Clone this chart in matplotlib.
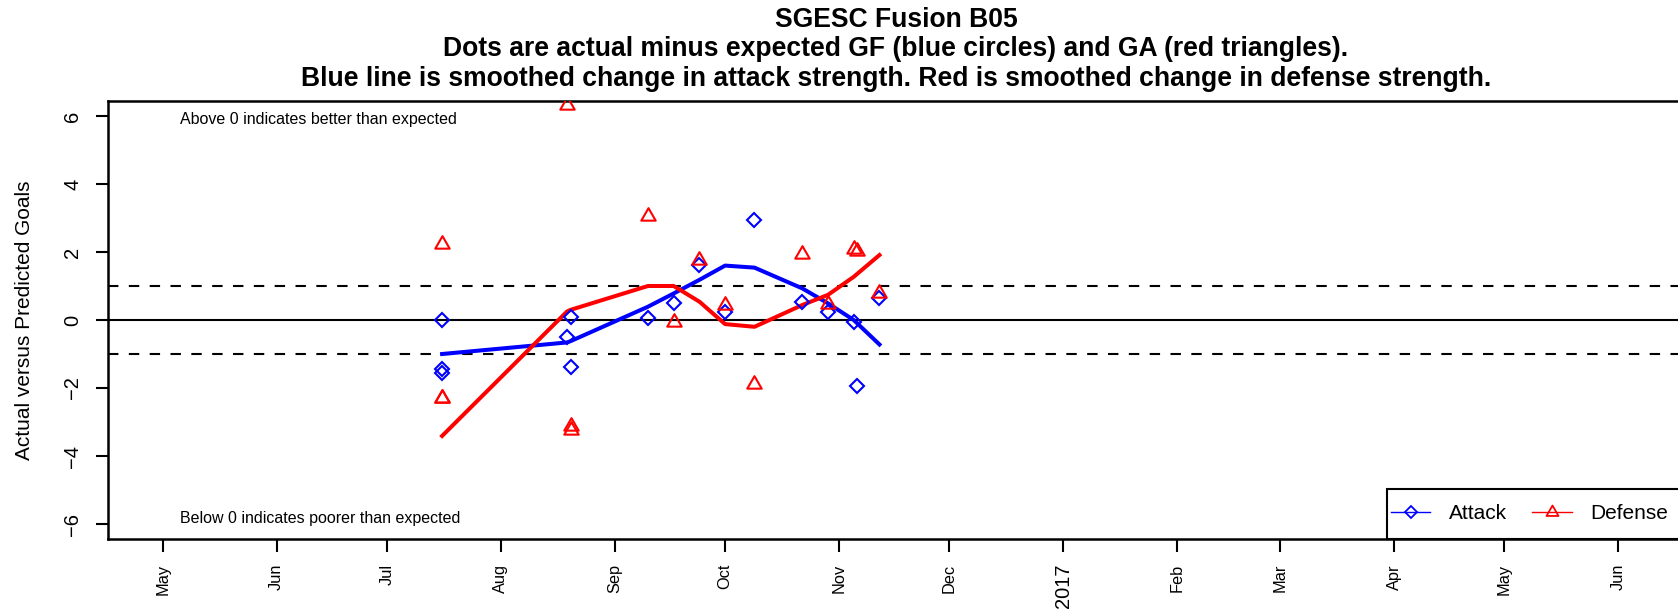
import matplotlib
matplotlib.use("Agg")
import matplotlib.pyplot as plt
import matplotlib.dates as mdates
from matplotlib.lines import Line2D
from matplotlib.patches import Rectangle
from matplotlib.path import Path
import datetime as dt

plt.rcParams['font.family'] = ['Liberation Sans', 'DejaVu Sans']

# game dates and actual minus expected goals
game_dates = ["2016-07-16", "2016-07-16", "2016-07-16", "2016-08-19", "2016-08-20",
              "2016-08-20", "2016-09-10", "2016-09-17", "2016-09-24", "2016-10-01",
              "2016-10-09", "2016-10-22", "2016-10-29", "2016-11-05", "2016-11-06",
              "2016-11-12"]
attack = [0.0, -1.57, -1.44, -0.49, 0.08, -1.37, 0.05, 0.51, 1.62, 0.24,
          2.94, 0.52, 0.23, -0.05, -1.94, 0.64]
defense = [2.24, -2.30, -2.30, 6.32, -3.12, -3.22, 3.06, -0.05, 1.76, 0.45,
           -1.87, 1.94, 0.46, 2.09, 2.04, 0.79]

# smoothed change in strength
smooth_dates = ["2016-07-16", "2016-08-19", "2016-08-20", "2016-09-10", "2016-09-17",
                "2016-09-24", "2016-10-01", "2016-10-09", "2016-10-22", "2016-10-29",
                "2016-11-05", "2016-11-12"]
attack_smooth = [-1.0, -0.66, -0.62, 0.39, 0.78, 1.18, 1.60, 1.54, 0.93, 0.49, 0.0, -0.72]
defense_smooth = [-3.41, 0.25, 0.30, 1.0, 1.0, 0.54, -0.12, -0.20, 0.44, 0.74, 1.27, 1.91]

yticks = [-6, -4, -2, 0, 2, 4, 6]

gd = [dt.datetime.strptime(d, "%Y-%m-%d") for d in game_dates]
sd = [dt.datetime.strptime(d, "%Y-%m-%d") for d in smooth_dates]

W, H = 1678, 616
fig = plt.figure(figsize=(W / 100, H / 100), dpi=100)
ax = fig.add_axes([108 / W, 1 - 539 / H, (1684 - 108) / W, (539 - 101) / H])

# open triangle like R's pch=2
tri = Path([(-1, -0.577), (1, -0.577), (0, 1.155), (-1, -0.577)], closed=True)

ax.axhline(0, color='black', lw=1.5, zorder=1)
ax.axhline(1, color='black', lw=1.5, ls=(0, (5, 5)), zorder=1)
ax.axhline(-1, color='black', lw=1.5, ls=(0, (5, 5)), zorder=1)

ax.plot(gd, attack, ls='none', marker='D', ms=7.3, mfc='none', mec='blue', mew=1.5,
        zorder=3)
ax.plot(gd, defense, ls='none', marker=tri, ms=12, mfc='none', mec='red', mew=1.5,
        zorder=3)
ax.plot(sd, attack_smooth, color='blue', lw=2.9, zorder=2)
ax.plot(sd, defense_smooth, color='red', lw=2.9, zorder=2)

start = dt.datetime(2016, 5, 1)
ax.set_xlim(start - dt.timedelta(days=14.9), start + dt.timedelta(days=413.9))
ax.set_ylim(-6.44, 6.44)

ax.xaxis.set_major_locator(mdates.MonthLocator())


def month_fmt(x, pos=None):
    d = mdates.num2date(x)
    if d.month == 1:
        return str(d.year)
    return d.strftime("%b")


ax.xaxis.set_major_formatter(plt.FuncFormatter(month_fmt))
ax.set_yticks(yticks)
ax.set_yticklabels([str(v).replace('-', '\u2212') for v in yticks])

ax.tick_params(axis='x', length=9, width=1.5, pad=9, labelsize=11.8, labelrotation=90)
ax.tick_params(axis='y', length=8.5, width=1.5, pad=10, labelsize=14.5, labelrotation=90)
for lab in ax.get_yticklabels():
    lab.set_va('center')
fig.canvas.draw()
for lab in ax.get_xticklabels():
    if lab.get_text().isdigit():
        lab.set_fontsize(14.5)

for s in ['left', 'bottom', 'top', 'right']:
    ax.spines[s].set_linewidth(1.8)

fig.text(25 / W, 1 - 320 / H, "Actual versus Predicted Goals", fontsize=15,
         rotation=90, ha='center', va='center')

ax.text(start + dt.timedelta(days=4.7), 5.91, "Above 0 indicates better than expected",
        fontsize=11.5, va='center', ha='left')
ax.text(start + dt.timedelta(days=4.7), -5.85, "Below 0 indicates poorer than expected",
        fontsize=11.5, va='center', ha='left')

# legend box drawn by hand, tight on the left like R's legend()
ax.add_patch(Rectangle(((1387 - 108) / 1576, 0), 0.3, 50 / 438, transform=ax.transAxes,
                       facecolor='white', edgecolor='black', lw=1.5, zorder=5,
                       clip_on=False))
handles = [Line2D([], [], color='blue', lw=1, marker='D', ms=6, mfc='none', mec='blue', mew=1.3),
           Line2D([], [], color='red', lw=1, marker=tri, ms=10, mfc='none', mec='red', mew=1.3)]
leg = ax.legend(handles, ["Attack", "Defense"], loc='lower right', ncol=2, fontsize=15,
                frameon=False, borderaxespad=0, handlelength=1.9,
                handletextpad=0.9, columnspacing=1.2, borderpad=0.75)
leg.set_zorder(6)

cx = 896 / W
titles = ["SGESC Fusion B05",
          "Dots are actual minus expected GF (blue circles) and GA (red triangles).",
          "Blue line is smoothed change in attack strength. Red is smoothed change in defense strength."]
for t, yb in zip(titles, [27, 55.5, 85.5]):
    fig.text(cx, 1 - yb / H, t, fontsize=19.1, fontweight='bold', ha='center', va='baseline')

fig.savefig("out.png", dpi=100)
